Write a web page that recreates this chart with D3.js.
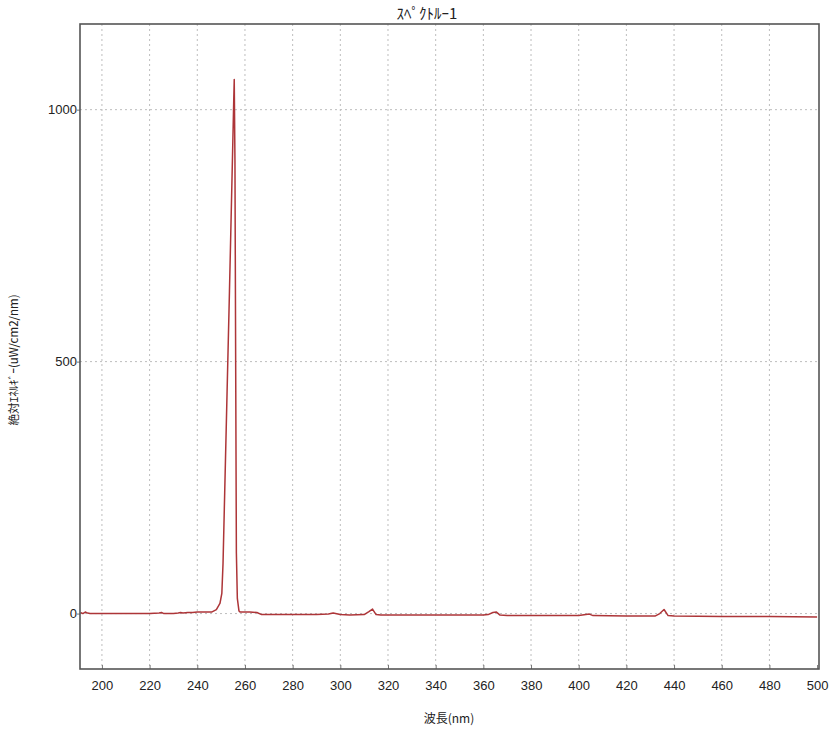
<!DOCTYPE html>
<html>
<head>
<meta charset="utf-8">
<script src="https://cdn.jsdelivr.net/npm/d3@7"></script>
<style>
  html, body { margin: 0; padding: 0; background: #fff; }
  svg { display: block; font-family: "Liberation Sans", Arial, sans-serif; }
</style>
</head>
<body>
<svg id="chart" width="840" height="735"></svg>
<script>
// ---- data ----
const titleText = "ｽﾍﾟｸﾄﾙｰ1";
const xLabel = "波長(nm)";
const yLabel = "絶対ｴﾈﾙｷﾞｰ(uW/cm2/nm)";
const xTicks = [200, 220, 240, 260, 280, 300, 320, 340, 360, 380, 400, 420, 440, 460, 480, 500];
const yTicks = [0, 500, 1000];
const wavelength = [191, 192, 193, 194, 195, 197, 200, 210, 220, 224, 225, 226, 230, 232, 233, 234, 236, 238, 240, 243, 246, 248, 249.5, 250.3, 250.8, 251.5, 252.5, 253.5, 254.5, 255.3, 255.5, 255.8, 256.1, 256.4, 256.8, 257.5, 258, 262, 265, 267, 280, 290, 295, 297, 299, 300, 304, 310, 312, 313.5, 315, 317, 330, 350, 360, 362, 364, 365.5, 367, 370, 390, 400, 403, 404.5, 406, 420, 432, 434, 435.8, 437.5, 440, 460, 480, 500];
const energy = [2, 0, 3, 1, 0, 0, 0, 0, 0, 1, 2, 0, 0, 1, 2, 1, 2, 2, 3, 3, 3, 8, 20, 40, 100, 240, 440, 640, 850, 1020, 1060, 900, 500, 120, 30, 5, 3, 3, 2, -2, -2, -2, -1, 1, -1, -2, -3, -2, 4, 9, -2, -3, -3, -3, -3, -2, 2, 3, -3, -4, -4, -4, -2, -1, -4, -5, -5, 0, 8, -4, -5, -6, -6, -7];

// ---- layout ----
const svg = d3.select("#chart");
const L = 80, T = 24, R = 819, B = 669;
const x = d3.scaleLinear().domain([190.8, 500.8]).range([L, R]);
const y = d3.scaleLinear().domain([-110, 1170]).range([B, T]);

// grid
svg.append("g").selectAll("line").data(xTicks.filter(d => d < 500)).join("line")
  .attr("x1", d => x(d)).attr("x2", d => x(d)).attr("y1", T).attr("y2", B)
  .attr("stroke", "#bdbdbd").attr("stroke-width", 1).attr("stroke-dasharray", "2,3");
svg.append("g").selectAll("line").data(yTicks).join("line")
  .attr("x1", L).attr("x2", R).attr("y1", d => y(d)).attr("y2", d => y(d))
  .attr("stroke", "#bdbdbd").attr("stroke-width", 1).attr("stroke-dasharray", "2,3");

// axes
const xAxis = d3.axisBottom(x).tickValues(xTicks).tickSize(4).tickFormat(d3.format("d"));
const gx = svg.append("g").attr("transform", `translate(0,${B})`).call(xAxis);
gx.select(".domain").remove();
gx.selectAll(".tick line").attr("stroke", "#777").attr("y2", -4);
gx.selectAll(".tick text").attr("font-size", 13).attr("fill", "#222").attr("dy", "1.1em");

const yAxis = d3.axisLeft(y).tickValues(yTicks).tickSize(3).tickFormat(d3.format("d"));
const gy = svg.append("g").attr("transform", `translate(${L},0)`).call(yAxis);
gy.select(".domain").remove();
gy.selectAll(".tick line").attr("stroke", "#777");
gy.selectAll(".tick text").attr("font-size", 13).attr("fill", "#222").attr("x", -3);

// line
const line = d3.line().x((d, i) => x(wavelength[i])).y(d => y(d));
svg.append("path").datum(energy)
  .attr("d", line)
  .attr("fill", "none").attr("stroke", "#ad3538").attr("stroke-width", 1.5)
  .attr("stroke-linejoin", "round");

// frame
svg.append("rect").attr("x", L).attr("y", T).attr("width", R - L).attr("height", B - T)
  .attr("fill", "none").attr("stroke", "#555").attr("stroke-width", 1.6);

// title & labels
svg.append("text").attr("x", 427).attr("y", 19).attr("text-anchor", "middle")
  .attr("font-size", 15).attr("fill", "#222")
  .attr("font-family", "'Noto Sans CJK JP', sans-serif").text(titleText);
svg.append("text").attr("x", 449).attr("y", 723).attr("text-anchor", "middle")
  .attr("font-size", 12).attr("fill", "#222")
  .attr("font-family", "'Noto Sans CJK JP', sans-serif").text(xLabel);
svg.append("text").attr("transform", "translate(18,360) rotate(-90)").attr("text-anchor", "middle")
  .attr("font-size", 11.5).attr("fill", "#222")
  .attr("font-family", "'Noto Sans CJK JP', sans-serif").text(yLabel);
</script>
</body>
</html>
